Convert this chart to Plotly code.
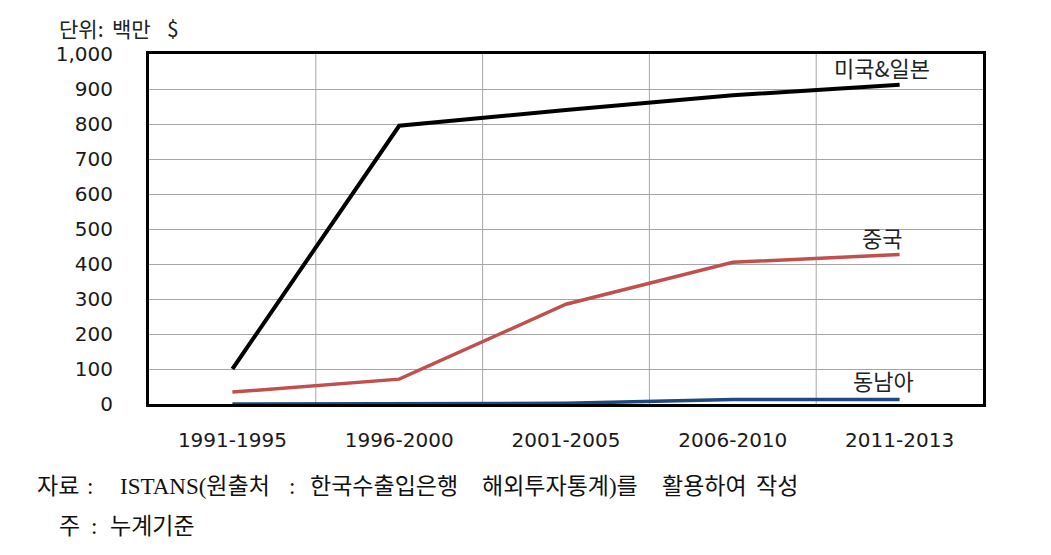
import plotly.graph_objects as go

categories = ["1991-1995", "1996-2000", "2001-2005", "2006-2010", "2011-2013"]
usa_japan = [100, 795, 840, 882, 912]
china = [34, 71, 285, 405, 427]
sea = [0, 0, 2, 13, 13]
y_ticks = [0, 100, 200, 300, 400, 500, 600, 700, 800, 900, 1000]
y_labels = ["0", "100", "200", "300", "400", "500", "600", "700", "800", "900", "1,000"]

W, H = 1051, 555
ML, MR, MT, MB = 149, 68, 54, 151
PW, PH = W - ML - MR, H - MT - MB


def px(x):
    return (x - ML) / PW


def py(y):
    return (H - MB - y) / PH


fig = go.Figure()
fig.add_trace(go.Scatter(x=categories, y=sea, mode="lines",
                         line=dict(color="#1f497d", width=3.5), name="동남아"))
fig.add_trace(go.Scatter(x=categories, y=china, mode="lines",
                         line=dict(color="#c0504d", width=3.5), name="중국"))
fig.add_trace(go.Scatter(x=categories, y=usa_japan, mode="lines",
                         line=dict(color="#000000", width=4), name="미국&일본"))

label_font = dict(family="Noto Sans CJK KR", size=22, color="#222222")
fig.add_annotation(x=categories[4], y=usa_japan[4], text="미국&일본", showarrow=False,
                   xanchor="center", yanchor="bottom", yshift=0, xshift=-18, font=label_font)
fig.add_annotation(x=categories[4], y=china[4], text="중국", showarrow=False,
                   xanchor="center", yanchor="bottom", yshift=0, xshift=-18, font=label_font)
fig.add_annotation(x=categories[4], y=sea[4], text="동남아", showarrow=False,
                   xanchor="center", yanchor="bottom", yshift=1, xshift=-16, font=label_font)

unit_font = dict(family="Noto Sans CJK KR", size=21, color="#222222")
for xpos, txt in [(57, "단위:"), (110, "백만"), (165, "$")]:
    fig.add_annotation(xref="paper", yref="paper", x=px(xpos), y=py(28),
                       text=txt, showarrow=False, xanchor="left", yanchor="middle",
                       font=unit_font)

foot_font = dict(family="Liberation Serif, Noto Sans CJK KR", size=23, color="#111111")
footer_line1 = [(35, "자료"), (85, ":"), (118, "ISTANS(원출처"), (287, ":"),
                (308, "한국수출입은행"), (480, "해외투자통계)를"), (660, "활용하여"),
                (754, "작성")]
footer_line2 = [(57, "주"), (89, ":"), (108, "누계기준")]
for xpos, txt in footer_line1:
    fig.add_annotation(xref="paper", yref="paper", x=px(xpos), y=py(486), text=txt,
                       showarrow=False, xanchor="left", yanchor="middle", font=foot_font)
for xpos, txt in footer_line2:
    fig.add_annotation(xref="paper", yref="paper", x=px(xpos), y=py(526), text=txt,
                       showarrow=False, xanchor="left", yanchor="middle", font=foot_font)

fig.update_layout(
    width=W, height=H,
    margin=dict(l=ML, r=MR, t=MT, b=MB),
    paper_bgcolor="white", plot_bgcolor="white",
    showlegend=False,
    font=dict(family="DejaVu Sans", color="#222222"),
)
fig.update_xaxes(type="category", range=[-0.5, 4.5], showgrid=False,
                 showline=True, linecolor="black", linewidth=3, mirror=True,
                 ticks="", tickfont=dict(family="DejaVu Sans", size=20, color="#1a1a1a"),
                 ticklabelstandoff=16)
fig.update_yaxes(range=[0, 1000], tickvals=y_ticks, ticktext=y_labels,
                 showgrid=True, gridcolor="#a6a6a6", gridwidth=1,
                 showline=True, linecolor="black", linewidth=3, mirror=True,
                 zeroline=False, ticks="", ticklabelstandoff=29,
                 tickfont=dict(family="DejaVu Sans", size=20, color="#1a1a1a"))
for i in range(1, 5):
    fig.add_shape(type="line", xref="x", yref="paper", x0=i - 0.5, x1=i - 0.5, y0=0, y1=1,
                  line=dict(color="#a6a6a6", width=1), layer="below")

fig.write_html("out.html")
